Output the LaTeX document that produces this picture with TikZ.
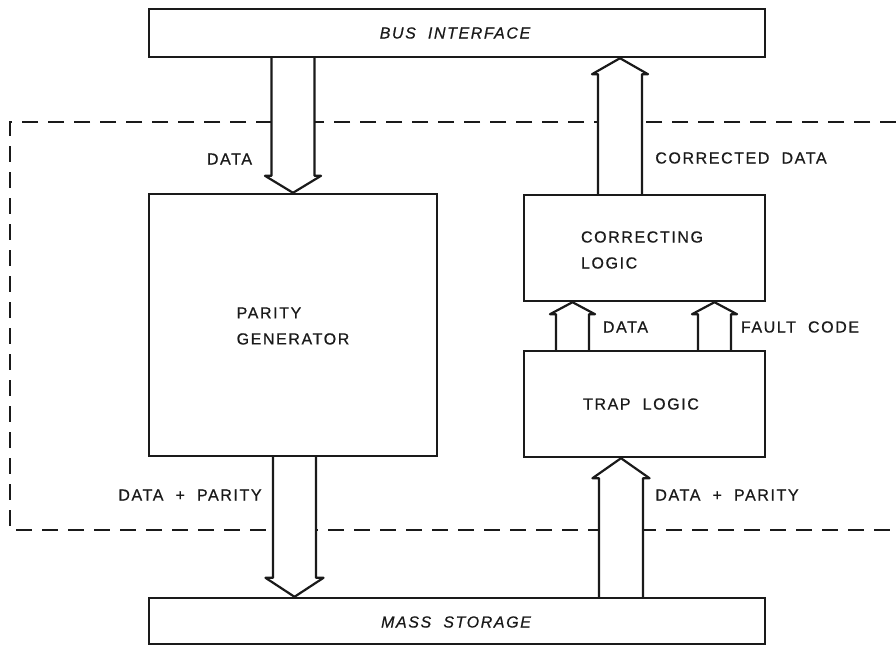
\documentclass[tikz,border=0pt]{standalone}
\usepackage{fontspec}
\setmainfont{Liberation Sans}[LetterSpace=10,WordSpace=2,FakeBold=0.6]
\usetikzlibrary{calc}
\definecolor{ink}{HTML}{1A1A1A}
\newcommand\blockarr[5]{%
  \filldraw[barrow] let \p1=(#1), \p2=(#2), \p3=($(#2)!#5pt!(#1)$) in
  (\x1-#3,\y1) -- (\x1-#3,\y3) -- (\x1-#4,\y3) -- (\x2,\y2) -- (\x1+#4,\y3) -- (\x1+#3,\y3) -- (\x1+#3,\y1);}
\begin{document}
\begin{tikzpicture}[x=1pt,y=-1pt,
  box/.style={draw=ink, line width=2.4pt, fill=white, inner sep=0pt},
  txt/.style={text=ink, font=\fontsize{16}{26}\selectfont, inner sep=0pt},
  barrow/.style={draw=ink, fill=white, line width=2.2pt, line join=round},
  boundary/.style={draw=ink, line width=2pt, dash pattern=on 16pt off 10pt}]
\useasboundingbox (0,0) rectangle (896,646);
\fill[white] (0,0) rectangle (896,646);
% dashed enclosure
\draw[boundary] (896,122) -- (10,122) -- (10,530) -- (896,530);
% boxes
\node[box, minimum width=616, minimum height=48] (bus) at (457,33) {};
\node[box, minimum width=288, minimum height=262] (parity) at (293,325) {};
\node[box, minimum width=241, minimum height=106] (corr) at (644.5,248) {};
\node[box, minimum width=241, minimum height=106] (trap) at (644.5,404) {};
\node[box, minimum width=616, minimum height=46] (mass) at (457,621) {};
% box texts
\node[txt] (busT) at (455,33) {\itshape BUS INTERFACE};
\node[txt, align=left] (parT) at (293,326) {PARITY\\GENERATOR};
\node[txt, align=left] (corT) at (642,250) {CORRECTING\\LOGIC};
\node[txt] (trapT) at (641,404) {TRAP LOGIC};
\node[txt] (massT) at (456,622) {\itshape MASS STORAGE};
% arrow axes
\coordinate (ax1) at (293,0);
\coordinate (ax2) at (294.5,0);
\coordinate (ax3) at (620,0);
\coordinate (ax4) at (572.5,0);
\coordinate (ax5) at (714.5,0);
\coordinate (ax6) at (621,0);
% block arrows
\blockarr{ax1 |- bus.south}{ax1 |- parity.north}{21.5}{28}{17}
\blockarr{ax2 |- parity.south}{ax2 |- mass.north}{21.5}{29}{19}
\blockarr{ax3 |- corr.north}{ax3 |- bus.south}{22}{28}{16}
\blockarr{ax4 |- trap.north}{ax4 |- corr.south}{16.5}{22.5}{12}
\blockarr{ax5 |- trap.north}{ax5 |- corr.south}{16.5}{22.5}{12}
\blockarr{ax6 |- mass.north}{ax6 |- trap.south}{22}{28.5}{20}
% labels
\node[txt] (l1) at (229.5,159) {DATA};
\node[txt] (l2) at (741,158) {CORRECTED DATA};
\node[txt] (l3) at (625.5,327) {DATA};
\node[txt] (l4) at (800,327) {FAULT CODE};
\node[txt] (l5) at (190,495) {DATA + PARITY};
\node[txt] (l6) at (727,495) {DATA + PARITY};
\end{tikzpicture}
\end{document}
